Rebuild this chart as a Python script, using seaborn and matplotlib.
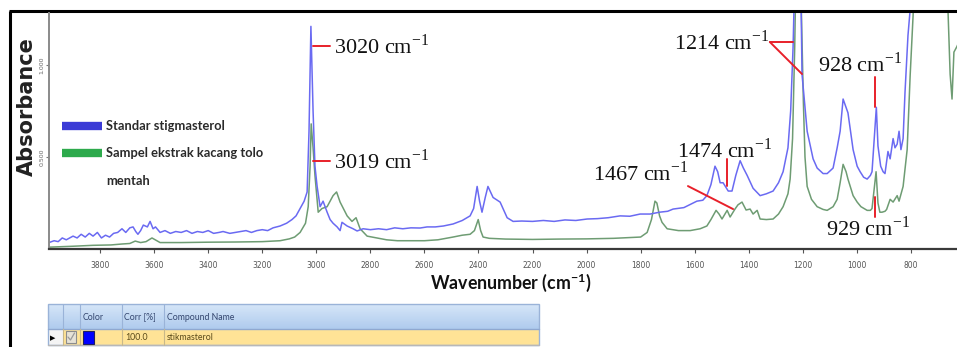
import numpy as np
import pandas as pd
import matplotlib
matplotlib.use("Agg")
import matplotlib.pyplot as plt
import seaborn as sns
from matplotlib.lines import Line2D
from matplotlib.patches import Rectangle
from matplotlib.colors import LinearSegmentedColormap

# ---------------- data ----------------
blue_wn = [3989, 3970, 3955, 3940, 3925, 3900, 3885, 3870, 3855, 3840, 3826, 3810, 3795, 3780, 3765,
           3750, 3735, 3719, 3705, 3690, 3678, 3668, 3660, 3650, 3640, 3625, 3615, 3604, 3595, 3578,
           3560, 3540, 3520, 3500, 3480, 3460, 3440, 3420, 3400, 3380, 3360, 3345, 3320, 3300, 3280,
           3260, 3240, 3220, 3200, 3180, 3160, 3134, 3110, 3090, 3075, 3060, 3045, 3034, 3027, 3020,
           3012, 3005, 2997, 2986, 2975, 2960, 2949, 2938, 2923, 2912, 2905, 2886, 2864, 2849, 2827,
           2800, 2770, 2740, 2710, 2680, 2650, 2616, 2590, 2560, 2530, 2494, 2460, 2431, 2418, 2405,
           2396, 2387, 2375, 2365, 2346, 2320, 2294, 2272, 2240, 2200, 2160, 2120, 2080, 2040, 1998,
           1960, 1920, 1876, 1840, 1802, 1765, 1730, 1700, 1680, 1640, 1592, 1570, 1555, 1540, 1525,
           1515, 1506, 1495, 1476, 1462, 1448, 1432, 1420, 1406, 1384, 1358, 1335, 1310, 1290, 1273,
           1255, 1245, 1236, 1228, 1214, 1208, 1203, 1184, 1162, 1147, 1125, 1110, 1088, 1073, 1062,
           1051, 1040, 1033, 1014, 999, 988, 975, 962, 950, 944, 938, 928, 922, 912, 903,
           896, 885, 877, 866, 859, 851, 844, 837, 829, 822, 811, 800, 790, 760, 700,
           600, 560]
blue_abs = [0.035, 0.045, 0.040, 0.060, 0.050, 0.070, 0.060, 0.080, 0.065, 0.085, 0.070, 0.090, 0.060, 0.075, 0.065,
            0.085, 0.090, 0.110, 0.090, 0.115, 0.120, 0.095, 0.080, 0.100, 0.130, 0.120, 0.150, 0.110, 0.120, 0.090,
            0.100, 0.085, 0.095, 0.090, 0.100, 0.085, 0.095, 0.090, 0.100, 0.085, 0.090, 0.095, 0.085, 0.090, 0.095,
            0.100, 0.090, 0.100, 0.105, 0.100, 0.115, 0.125, 0.140, 0.160, 0.180, 0.220, 0.260, 0.310, 0.640, 1.210,
            0.750, 0.450, 0.340, 0.230, 0.260, 0.200, 0.160, 0.140, 0.120, 0.100, 0.145, 0.125, 0.110, 0.098, 0.110,
            0.105, 0.110, 0.105, 0.115, 0.110, 0.115, 0.114, 0.120, 0.120, 0.125, 0.136, 0.155, 0.180, 0.220, 0.340,
            0.260, 0.200, 0.280, 0.340, 0.280, 0.255, 0.170, 0.150, 0.152, 0.150, 0.155, 0.150, 0.158, 0.155, 0.163,
            0.165, 0.170, 0.180, 0.178, 0.190, 0.190, 0.200, 0.205, 0.217, 0.225, 0.260, 0.265, 0.290, 0.350, 0.450,
            0.420, 0.360, 0.360, 0.315, 0.315, 0.400, 0.480, 0.440, 0.400, 0.330, 0.290, 0.300, 0.315, 0.360, 0.420,
            0.550, 0.750, 1.100, 1.600, 2.200, 1.500, 0.950, 0.640, 0.490, 0.440, 0.410, 0.410, 0.440, 0.550, 0.640,
            0.815, 0.770, 0.740, 0.540, 0.450, 0.420, 0.390, 0.380, 0.400, 0.420, 0.550, 0.770, 0.560, 0.450, 0.420,
            0.410, 0.530, 0.490, 0.600, 0.550, 0.570, 0.640, 0.540, 0.600, 0.850, 1.160, 1.350, 1.600, 2.000, 2.000,
            2.000, 2.000]

green_wn = [3989, 3950, 3900, 3826, 3760, 3720, 3690, 3670, 3650, 3630, 3608, 3590, 3578, 3500, 3400,
            3300, 3200, 3134, 3100, 3080, 3060, 3040, 3030, 3023, 3019, 3012, 3005, 2993, 2979, 2960,
            2938, 2925, 2912, 2886, 2868, 2853, 2838, 2812, 2775, 2740, 2700, 2650, 2600, 2550, 2494,
            2460, 2431, 2415, 2401, 2392, 2383, 2360, 2300, 2200, 2100, 2000, 1900, 1840, 1800, 1776,
            1760, 1747, 1740, 1730, 1721, 1702, 1660, 1617, 1580, 1555, 1540, 1521, 1510, 1499, 1480,
            1469, 1451, 1440, 1425, 1410, 1395, 1384, 1369, 1358, 1335, 1310, 1290, 1273, 1255, 1247,
            1238, 1230, 1220, 1210, 1198, 1192, 1184, 1168, 1147, 1125, 1110, 1088, 1073, 1062, 1051,
            1040, 1033, 1014, 999, 985, 962, 950, 944, 938, 929, 922, 915, 907, 896, 890,
            877, 866, 851, 844, 829, 814, 803, 792, 780, 700, 670, 663, 655, 648, 641,
            630, 600, 560]
green_abs = [0.010, 0.012, 0.015, 0.020, 0.022, 0.027, 0.030, 0.043, 0.035, 0.040, 0.060, 0.045, 0.035, 0.035, 0.037,
             0.038, 0.040, 0.045, 0.055, 0.065, 0.090, 0.140, 0.230, 0.450, 0.680, 0.550, 0.400, 0.200, 0.220, 0.230,
             0.290, 0.310, 0.255, 0.180, 0.150, 0.170, 0.110, 0.070, 0.060, 0.050, 0.045, 0.045, 0.045, 0.050, 0.065,
             0.075, 0.080, 0.100, 0.160, 0.100, 0.065, 0.058, 0.054, 0.052, 0.054, 0.055, 0.058, 0.062, 0.065, 0.090,
             0.160, 0.260, 0.250, 0.180, 0.145, 0.110, 0.100, 0.100, 0.110, 0.125, 0.160, 0.210, 0.190, 0.163, 0.210,
             0.174, 0.217, 0.240, 0.255, 0.212, 0.217, 0.190, 0.210, 0.163, 0.160, 0.163, 0.190, 0.230, 0.300, 0.380,
             0.600, 1.100, 2.000, 1.600, 0.800, 0.500, 0.340, 0.270, 0.230, 0.215, 0.210, 0.230, 0.270, 0.360, 0.460,
             0.420, 0.380, 0.290, 0.255, 0.230, 0.210, 0.210, 0.220, 0.300, 0.420, 0.250, 0.200, 0.200, 0.205, 0.215,
             0.270, 0.255, 0.290, 0.260, 0.340, 0.540, 0.940, 1.270, 1.800, 2.200, 1.800, 1.300, 0.950, 0.815, 1.070,
             1.100, 1.200, 1.300]

series_names = ["Standar stigmasterol", "Sampel ekstrak kacang tolo", "mentah"]
x_ticks = [3800, 3600, 3400, 3200, 3000, 2800, 2600, 2400, 2200, 2000, 1800, 1600, 1400, 1200, 1000, 800, 600]
y_ticks = [0.5, 1.0]
y_tick_labels = ["0.500", "1.000"]

# annotations: (label, text x, text y, ha, red line segments)
annotations = [
    ("3020", 2934, 1.103, "left", [((3012, 1.103), (2949, 1.103))]),
    ("3019", 2934, 0.478, "left", [((3012, 0.478), (2949, 0.478))]),
    ("1214", 1325, 1.125, "right", [((1322, 1.125), (1236, 1.125)), ((1322, 1.125), (1203, 0.951))]),
    ("928", 988, 1.005, "center", [((933, 0.935), (933, 0.772))]),
    ("1474", 1488, 0.533, "center", [((1480, 0.489), (1480, 0.342))]),
    ("1467", 1802, 0.408, "center", [((1625, 0.342), (1458, 0.217))]),
    ("929", 959, 0.109, "center", [((933, 0.283), (933, 0.174))]),
]

table_header = ["Color", "Corr [%]", "Compound Name"]
table_row = ["100.0", "stikmasterol"]

# ---------------- figure ----------------
sns.set_style("white")
plt.rcParams["font.family"] = ["DejaVu Sans"]
W, H = 957, 347
fig = plt.figure(figsize=(W / 100, H / 100), dpi=100)

# background axes in pixel coordinates (frame + table)
bg = fig.add_axes([0, 0, 1, 1], zorder=0)
bg.set_xlim(0, W)
bg.set_ylim(H, 0)
bg.axis("off")
bg.plot([10, 10], [11, H + 5], color="black", lw=2.2, solid_capstyle="butt")
bg.plot([9, W + 5], [11, 11], color="black", lw=2.2, solid_capstyle="butt")

# table
tx0, tx1 = 48, 539
hy0, hy1 = 304, 329
ry0, ry1 = 329, 345
grad = np.linspace(0, 1, 50).reshape(-1, 1)
cm_head = LinearSegmentedColormap.from_list("h", ["#D6E6F8", "#AFCBEE"])
bg.imshow(grad, cmap=cm_head, extent=[tx0, tx1, hy1, hy0], aspect="auto", zorder=1)
bg.add_patch(Rectangle((tx0, ry0), tx1 - tx0, ry1 - ry0, facecolor="#FFE396", edgecolor="none", zorder=1))
bg.add_patch(Rectangle((tx0, ry0), 15, ry1 - ry0, facecolor="#F4F4F4", edgecolor="none", zorder=1.5))
bg.add_patch(Rectangle((tx0, hy0), tx1 - tx0, ry1 - hy0, facecolor="none", edgecolor="#9AB3D8", lw=1, zorder=3))
bg.plot([tx0, tx1], [hy1, hy1], color="#8FA8D0", lw=1, zorder=3)
bg.plot([tx0, tx1], [ry1, ry1], color="#B8B8B8", lw=1, zorder=3)
for cx in [63, 80, 122, 164]:
    bg.plot([cx, cx], [hy0, hy1], color="#9AB3D8", lw=0.8, zorder=3)
    bg.plot([cx, cx], [ry0, ry1], color="#C8B88A", lw=0.8, zorder=3)
hdr_x = [83, 124, 167]
for t, x in zip(table_header, hdr_x):
    bg.text(x, 317, t, fontsize=6.3, color="#33456E", va="center", ha="left",
            family=["Lato", "DejaVu Sans"], zorder=4)
bg.text(53, 338, "\u25B6", fontsize=5, color="black", va="center", ha="center", zorder=4)
bg.add_patch(Rectangle((66, 331), 10, 12, facecolor="#E6E2D6", edgecolor="#8C8C8C", lw=0.8, zorder=4))
bg.plot([68, 70.5, 74.5], [337, 340, 333], color="#9A9A9A", lw=0.9, zorder=5)
bg.add_patch(Rectangle((83, 331), 11, 13, facecolor="#0000FF", edgecolor="#202060", lw=0.8, zorder=4))
for t, x in zip(table_row, [125, 167]):
    bg.text(x, 338, t, fontsize=6.3, color="#5A4A1A", va="center", ha="left",
            family=["Lato", "DejaVu Sans"], zorder=4)

# main spectrum axes
x_left_px, x_right_px = 49, 975
y_top_px, y_bot_px = 13, 249
ax = fig.add_axes([x_left_px / W, (H - y_bot_px) / H, (x_right_px - x_left_px) / W, (y_bot_px - y_top_px) / H],
                  zorder=2)
ax.patch.set_alpha(0)

blue_df = pd.DataFrame({"wn": blue_wn, "absorb": blue_abs})
green_df = pd.DataFrame({"wn": green_wn, "absorb": green_abs})
sns.lineplot(data=green_df, x="wn", y="absorb", ax=ax, color="#6E9C73", lw=1.1, sort=False, estimator=None)
sns.lineplot(data=blue_df, x="wn", y="absorb", ax=ax, color="#6A6AF2", lw=1.1, sort=False, estimator=None)

ax.set_xlim(3989, 563)
ax.set_ylim(0, (y_bot_px - y_top_px) / 184)

for s in ["top", "right"]:
    ax.spines[s].set_visible(False)
ax.spines["bottom"].set_color("#3A3A3A")
ax.spines["bottom"].set_linewidth(1.6)
ax.spines["left"].set_color("#8A8A8A")
ax.spines["left"].set_linewidth(1.4)

ax.set_xticks(x_ticks)
ax.set_xticklabels([str(v) for v in x_ticks], fontsize=5.5, color="#555555")
ax.tick_params(axis="x", direction="out", length=3, width=0.8, color="#555555", pad=6, bottom=True)
ax.set_yticks(y_ticks)
ax.set_yticklabels(y_tick_labels, fontsize=4.5, color="#666666", rotation=90, va="center")
ax.tick_params(axis="y", direction="out", length=2.5, width=0.8, color="#777777", pad=1, left=True)

ax.set_xlabel("Wavenumber (cm$^{\\mathregular{-1}}$)", fontsize=12.8, fontweight="bold",
              family=["Lato", "DejaVu Sans"], color="#111111")
ax.xaxis.set_label_coords((511 - x_left_px) / (x_right_px - x_left_px), -(283 - y_bot_px) / (y_bot_px - y_top_px))
ax.xaxis.label.set_va("center")
ax.set_ylabel("Absorbance", fontsize=15, fontweight="bold", family=["DejaVu Sans"], color="#222222")
ax.yaxis.set_label_coords((27 - x_left_px) / (x_right_px - x_left_px), (y_bot_px - 107) / (y_bot_px - y_top_px))
ax.yaxis.label.set_va("center")

# annotations
for lab, txx, tyy, ha, segs in annotations:
    for (x0, y0), (x1, y1) in segs:
        ax.plot([x0, x1], [y0, y1], color="#E8202A", lw=1.4, zorder=5)
    ax.text(txx, tyy, lab + " cm$^{\\mathregular{-1}}$", fontsize=16, ha=ha, va="center",
            family=["Liberation Serif", "DejaVu Serif"], color="#111111", zorder=6)

# legend
handles = [Line2D([], [], color="#3B3BD6", lw=6, solid_capstyle="butt"),
           Line2D([], [], color="#2DAA4C", lw=6, solid_capstyle="butt"),
           Line2D([], [], color="none", lw=6)]
leg = ax.legend(handles, series_names, loc="upper left", bbox_to_anchor=(0.0, 0.6), frameon=False,
                handlelength=3.1, handletextpad=0.3, labelspacing=1.17, borderaxespad=0.6,
                prop={"family": ["Lato", "DejaVu Sans"], "size": 9.3, "weight": "bold"})
for t in leg.get_texts():
    t.set_color("#2A2A2A")

fig.savefig("out.png", dpi=100)
